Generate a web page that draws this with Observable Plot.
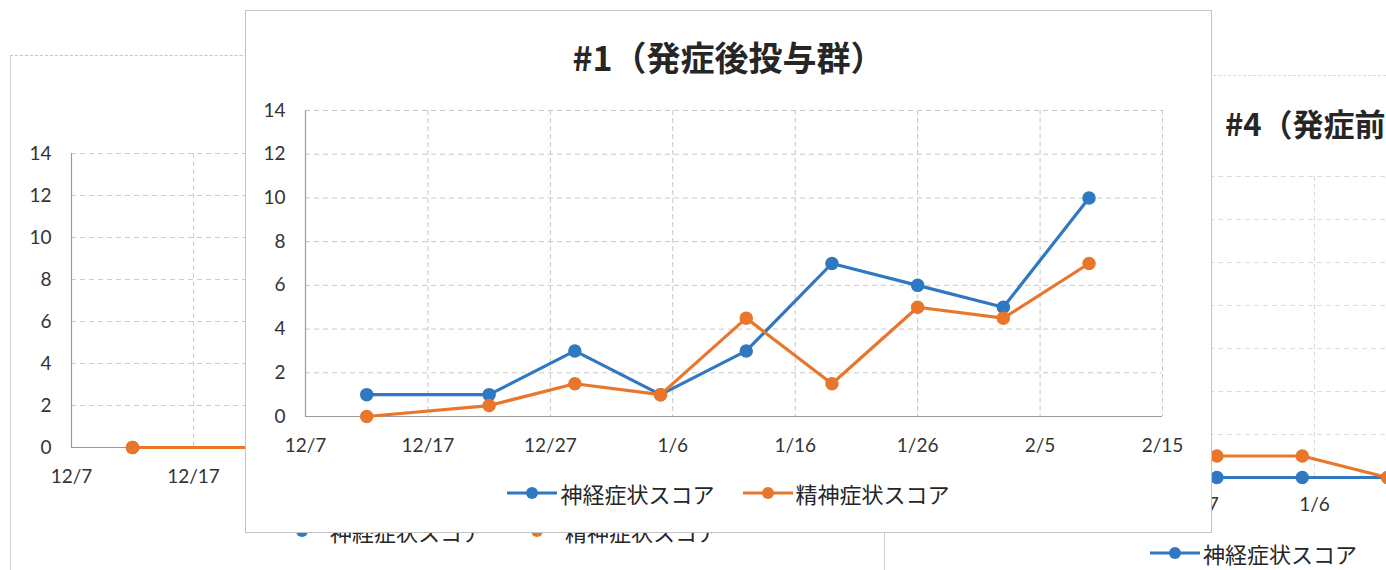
<!DOCTYPE html>
<html>
<head>
<meta charset="utf-8">
<script src="https://cdn.jsdelivr.net/npm/d3@7"></script>
<script src="https://cdn.jsdelivr.net/npm/@observablehq/plot@0.6"></script>
<style>
  body { margin: 0; background: #fff; }
  #page { position: relative; width: 1386px; height: 570px; overflow: hidden; background: #fff; }
  .box { position: absolute; box-sizing: content-box; }
  .title { position: absolute; font-family: "Noto Sans CJK JP", sans-serif; font-weight: bold; color: #262626; line-height: 1; white-space: nowrap; }
  .legend { position: absolute; display: flex; align-items: center; font-family: "Noto Sans CJK JP", sans-serif; font-size: 22px; color: #262626; white-space: nowrap; line-height: 1; }
  .legend .item { display: flex; align-items: center; }
  .legend svg { display: block; }
</style>
</head>
<body>
<div id="page">
  <div id="left" class="box" style="left:10px;top:55px;width:990px;height:560px;border-left:1px solid #cfcfcf;border-top:1px dashed #c6c6c6;"></div>
  <div id="right" class="box" style="left:884px;top:75px;width:960px;height:560px;border-left:1px solid #cfcfcf;border-top:1px dashed #dadada;"></div>
  <div id="main" class="box" style="left:245px;top:10px;width:965px;height:521px;border:1px solid #c4c4c4;background:#fff;"></div>
</div>
<script>
// ---- data: main chart (#1 発症後投与群) ----
const seriesNames = ["神経症状スコア", "精神症状スコア"];
const seriesColors = ["#2f78c2", "#e8762b"];
const mainDates = ["2020-12-12", "2020-12-22", "2020-12-29", "2021-01-05", "2021-01-12", "2021-01-19", "2021-01-26", "2021-02-02", "2021-02-09"];
const mainNeuro = [1, 1, 3, 1, 3, 7, 6, 5, 10];
const mainPsych = [0, 0.5, 1.5, 1, 4.5, 1.5, 5, 4.5, 7];
const xTickDates = ["2020-12-07", "2020-12-17", "2020-12-27", "2021-01-06", "2021-01-16", "2021-01-26", "2021-02-05", "2021-02-15"];
const yTicks = [0, 2, 4, 6, 8, 10, 12, 14];
const mainTitle = "#1（発症後投与群）";

// ---- data: partly hidden chart behind, left ----
const leftDates = ["2020-12-12", "2020-12-22"];
const leftNeuro = [0, 0];
const leftPsych = [0, 0];

// ---- data: partly hidden chart behind, right (#4) ----
const rightTitle = "#4（発症前投与群）";
const rightDates = ["2020-12-29", "2021-01-05", "2021-01-12"];
const rightNeuro = [0, 0, 0];
const rightPsych = [1, 1, 0];

const xTicks = xTickDates.map(d => new Date(d));
const fmt = d => `${d.getUTCMonth() + 1}/${d.getUTCDate()}`;

function rows(dates, neuro, psych) {
  const out = [];
  dates.forEach((d, i) => out.push({date: new Date(d), value: neuro[i], series: seriesNames[0]}));
  dates.forEach((d, i) => out.push({date: new Date(d), value: psych[i], series: seriesNames[1]}));
  return out;
}

function chart(data, o) {
  return Plot.plot({
    width: o.width, height: o.height,
    marginLeft: o.marginLeft, marginRight: o.marginRight,
    marginTop: o.marginTop, marginBottom: o.marginBottom,
    style: {fontFamily: "Lato, 'Open Sans', sans-serif", fontSize: "19px", color: "#333", background: "transparent", overflow: "visible"},
    x: {type: "utc", domain: [xTicks[0], xTicks[xTicks.length - 1]], ticks: xTicks, tickFormat: fmt, tickSize: 0, tickPadding: o.xPad, label: null},
    y: {domain: [0, 14], ticks: yTicks, tickSize: 0, tickPadding: 20, label: null},
    color: {domain: seriesNames, range: seriesColors},
    marks: [
      Plot.ruleX(xTicks.slice(1), {stroke: o.grid, strokeWidth: 1, strokeDasharray: "5,3"}),
      Plot.ruleY(yTicks.slice(1), {stroke: o.grid, strokeWidth: 1, strokeDasharray: "5,4"}),
      Plot.ruleX([xTicks[0]], {stroke: "#9a9a9a", strokeWidth: 1.2}),
      Plot.ruleY([0], {stroke: "#9a9a9a", strokeWidth: 1.2}),
      Plot.lineY(data, {x: "date", y: "value", stroke: "series", strokeWidth: 3.2}),
      Plot.dot(data, {x: "date", y: "value", fill: "series", stroke: "series", r: 6})
    ]
  });
}

function legend(items, gap) {
  const div = document.createElement("div");
  div.className = "legend";
  div.style.gap = gap + "px";
  items.forEach((name) => {
    const i = seriesNames.indexOf(name);
    const it = document.createElement("div");
    it.className = "item";
    const ns = "http://www.w3.org/2000/svg";
    const s = document.createElementNS(ns, "svg");
    s.setAttribute("width", 50); s.setAttribute("height", 16);
    const l = document.createElementNS(ns, "line");
    l.setAttribute("x1", 0); l.setAttribute("x2", 50); l.setAttribute("y1", 8); l.setAttribute("y2", 8);
    l.setAttribute("stroke", seriesColors[i]); l.setAttribute("stroke-width", 3.2);
    const c = document.createElementNS(ns, "circle");
    c.setAttribute("cx", 25); c.setAttribute("cy", 8); c.setAttribute("r", 6);
    c.setAttribute("fill", seriesColors[i]);
    s.appendChild(l); s.appendChild(c);
    const t = document.createElement("span");
    t.textContent = name;
    t.style.marginLeft = "3px";
    it.appendChild(s); it.appendChild(t);
    div.appendChild(it);
  });
  return div;
}

function place(parent, el, left, top) {
  el.style.position = "absolute";
  el.style.left = left + "px";
  el.style.top = top + "px";
  parent.appendChild(el);
}

// ---- left background chart ----
{
  const host = document.getElementById("left");
  const svg = chart(rows(leftDates, leftNeuro, leftPsych), {width: 980, height: 441, marginLeft: 60, marginRight: 66, marginTop: 97, marginBottom: 50, xPad: 22, grid: "#cdcdcd"});
  place(host, svg, 0, 0);
  const lg = legend(seriesNames, 28);
  place(host, lg, 266, 464);
}

// ---- right background chart ----
{
  const host = document.getElementById("right");
  const svg = chart(rows(rightDates, rightNeuro, rightPsych), {width: 940, height: 446, marginLeft: 63, marginRight: 23, marginTop: 100, marginBottom: 45, xPad: 20, grid: "#dcdcdc"});
  place(host, svg, 0, 0);
  const t = document.createElement("div");
  t.className = "title";
  t.style.fontSize = "31px";
  t.textContent = rightTitle;
  place(host, t, 340, 31);
  const lg = legend(seriesNames, 40);
  place(host, lg, 265, 466);
}

// ---- main chart ----
{
  const host = document.getElementById("main");
  const t = document.createElement("div");
  t.className = "title";
  t.style.fontSize = "34px";
  t.style.width = "965px";
  t.style.textAlign = "center";
  t.textContent = mainTitle;
  place(host, t, 0, 29);
  const svg = chart(rows(mainDates, mainNeuro, mainPsych), {width: 965, height: 371, marginLeft: 59, marginRight: 49, marginTop: 20, marginBottom: 45, xPad: 22, grid: "#c8c8c8"});
  place(host, svg, 0, 79);
  const lg = legend(seriesNames, 28);
  lg.style.width = "965px";
  lg.style.justifyContent = "center";
  place(host, lg, 0, 471);
}
</script>
</body>
</html>
